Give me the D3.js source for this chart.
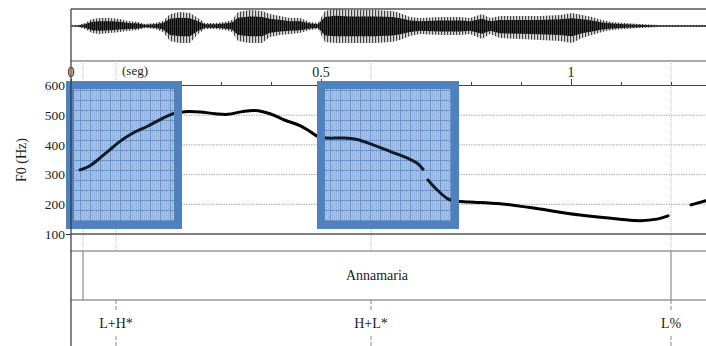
<!DOCTYPE html>
<html><head><meta charset="utf-8">
<script src="https://cdn.jsdelivr.net/npm/d3@7"></script>
<style>
body{margin:0;background:#fff}
svg text{font-family:"Liberation Serif","Times New Roman","DejaVu Serif",serif;fill:#222}
</style></head><body><div id="chart"></div>
<script>
// waveform envelope (time s, upper / lower amplitude, 1 = full panel)
const waveT    = [0,0.014,0.028,0.042,0.058,0.078,0.098,0.114,0.134,0.148,0.168,0.184,0.198,0.218,0.238,0.254,0.268,0.288,0.308,0.322,0.334,0.358,0.382,0.398,0.418,0.438,0.458,0.478,0.494,0.508,0.528,0.558,0.608,0.642,0.658,0.678,0.698,0.738,0.778,0.798,0.822,0.838,0.858,0.898,0.938,0.978,1.002,1.022,1.042,1.062,1.082,1.108,1.138,1.178,1.27]
const waveUp   = [0.03,0.06,0.18,0.41,0.47,0.47,0.41,0.29,0.24,0.12,0.18,0.29,0.71,0.82,0.76,0.47,0.18,0.18,0.24,0.35,0.82,0.94,0.88,0.71,0.59,0.47,0.47,0.24,0.18,0.88,1,0.94,0.94,0.88,0.76,0.53,0.47,0.53,0.53,0.47,0.71,0.47,0.59,0.59,0.59,0.65,0.76,0.65,0.53,0.35,0.24,0.18,0.12,0.06,0.06]
const waveDown = [0.03,0.06,0.18,0.41,0.47,0.41,0.35,0.29,0.24,0.12,0.18,0.35,0.88,1,1,0.47,0.18,0.18,0.24,0.35,0.88,1,1,0.65,0.53,0.47,0.41,0.24,0.18,0.94,1,1,1,0.94,0.82,0.59,0.47,0.53,0.53,0.47,0.76,0.47,0.71,0.76,0.82,0.88,1,0.71,0.53,0.35,0.24,0.18,0.12,0.06,0.06]

// F0 contour pieces [time s, Hz]
const f0Seg1 = [[0.018,316],[0.038,330],[0.058,356],[0.078,384],[0.098,412],[0.124,440],[0.152,462],[0.178,485],[0.204,505],[0.228,512],[0.258,511],[0.288,505],[0.314,503],[0.342,512],[0.368,516],[0.398,505],[0.428,483],[0.458,465],[0.478,445],[0.494,428],[0.512,423],[0.544,423],[0.572,418],[0.604,400],[0.638,378],[0.672,356],[0.692,339],[0.704,318]]
const f0Seg2 = [[0.714,282],[0.732,249],[0.752,220],[0.764,212],[0.798,208],[0.858,202],[0.918,189],[1.018,164],[1.098,150],[1.138,145],[1.172,150],[1.194,161]]
const f0Seg3 = [[1.240,198],[1.270,212]]

const hzTicks = [100,200,300,400,500,600]
const hzGrid = [200,300,400,500]
const timeTicks = [0,0.1,0.2,0.3,0.4,0.5,0.6,0.7,0.8,0.9,1,1.1,1.2]
const timeLabels = [0,0.5,1]
const marks = [0.024,0.09,0.6,1.2]
const wordLabel = "Annamaria", wordStart = 0.024, wordEnd = 1.2
const tones = ["L+H*","H+L*","L%"]
const toneT = [0.09,0.6,1.2]
const boxT = [[-0.01,0.222],[0.492,0.776]]
const boxHz = [117,615]

const W = 706, H = 346
const L = 71, R = 706, waveTop = 9, waveBot = 61, axisY = 85, f0Bot = 234, tier1 = 251, tier2 = 300
const serif = '"Liberation Serif","Times New Roman","DejaVu Serif",serif'

const svg = d3.select("#chart").append("svg").attr("width",W).attr("height",H).attr("font-family",serif)
const defs = svg.append("defs")

const x = d3.scaleLinear().domain([0,1.27]).range([L,R])
const y = d3.scaleLinear().domain([100,600]).range([f0Bot,85.5])
const wy = d3.scaleLinear().domain([-1,1]).range([43,9])

// waveform stripe patterns: grey fringe + black core
const wp = defs.append("pattern").attr("id","wave").attr("width",3).attr("height",4).attr("patternUnits","userSpaceOnUse")
wp.append("rect").attr("width",3).attr("height",4).attr("fill","#fff")
wp.append("rect").attr("width",1).attr("height",4).attr("fill","#444")
wp.append("rect").attr("x",1.5).attr("width",0.8).attr("height",4).attr("fill","#888")
const wc = defs.append("pattern").attr("id","core").attr("width",2).attr("height",4).attr("patternUnits","userSpaceOnUse")
wc.append("rect").attr("width",2).attr("height",4).attr("fill","#555")
wc.append("rect").attr("width",1.3).attr("height",4).attr("fill","#000")

// box pattern
const bp = defs.append("pattern").attr("id","grid").attr("width",10).attr("height",10).attr("patternUnits","userSpaceOnUse")
bp.append("rect").attr("width",10).attr("height",10).attr("fill","#c3d4ec")
for(let i=0;i<10;i+=2) for(let j=(i/2)%2;j<10;j+=2)
  bp.append("rect").attr("x",i).attr("y",j).attr("width",1).attr("height",1).attr("fill","#94b2de")
bp.append("path").attr("d","M0.5,0V10M0,0.5H10").attr("stroke","#7499cf").attr("stroke-width",1)

// waveform
const waveData = waveT.map((t,i)=>({t,u:waveUp[i],d:waveDown[i]}))
svg.append("path").datum(waveData)
  .attr("d",d3.area().x(d=>x(d.t)).y0(d=>wy(-d.d)).y1(d=>wy(d.u)).curve(d3.curveLinear))
  .attr("fill","url(#wave)")
svg.append("path").datum(waveData)
  .attr("d",d3.area().x(d=>x(d.t)).y0(d=>wy(-d.d*0.6)).y1(d=>wy(d.u*0.6)).curve(d3.curveLinear))
  .attr("fill","url(#core)")
svg.append("line").attr("x1",L).attr("x2",R).attr("y1",26).attr("y2",26).attr("stroke","#333").attr("stroke-width",0.8)

// frame lines
const hl = (yy,c,w)=>svg.append("line").attr("x1",L).attr("x2",R).attr("y1",yy).attr("y2",yy).attr("stroke",c).attr("stroke-width",w)
hl(waveTop,"#555",1.5)
hl(waveBot,"#aaa",2)

// grid
svg.selectAll(".hg").data(hzGrid).enter().append("line")
  .attr("x1",L).attr("x2",R).attr("y1",d=>y(d)).attr("y2",d=>y(d))
  .attr("stroke","#aaa").attr("stroke-width",1).attr("stroke-dasharray","1.5,1")
svg.selectAll(".vg").data(marks).enter().append("line")
  .attr("x1",d=>x(d)).attr("x2",d=>x(d)).attr("y1",waveBot).attr("y2",tier1)
  .attr("stroke","#bbb").attr("stroke-width",1).attr("stroke-dasharray","1,1")

// time axis
const tAxis = d3.axisTop(x).tickValues(timeTicks).tickSize(3).tickFormat("")
const tg = svg.append("g").attr("transform",`translate(0,${axisY})`).call(tAxis)
tg.select(".domain").attr("d",`M${L},0.5H${R}`).attr("stroke","#444")
tg.selectAll(".tick line").attr("stroke","#444").attr("y2",d=>timeLabels.includes(d)?-6:-3)
svg.selectAll(".tl").data(timeLabels).enter().append("text")
  .attr("x",d=>x(d)).attr("y",77).attr("text-anchor","middle").attr("font-size",14).text(d=>d)
svg.append("text").attr("x",122).attr("y",75).attr("font-size",13).text("(seg)")

// F0 axis
const yAxis = d3.axisLeft(y).tickValues(hzTicks).tickSize(5).tickPadding(1)
const yg = svg.append("g").attr("transform",`translate(${L},0)`).call(yAxis).attr("font-family",serif)
yg.select(".domain").remove()
yg.selectAll(".tick line").attr("stroke","#333")
yg.selectAll("text").attr("font-size",13.5).attr("fill","#222")
svg.append("text").attr("transform","translate(26,160) rotate(-90)").attr("text-anchor","middle").attr("font-size",14).text("F0 (Hz)")

// boxes: fill first
const boxes = boxT.map(b=>({x0:x(b[0]),x1:x(b[1]),y0:y(boxHz[1]),y1:y(boxHz[0])}))
svg.selectAll(".bf").data(boxes).enter().append("rect")
  .attr("x",d=>d.x0+4).attr("y",d=>d.y0+4).attr("width",d=>d.x1-d.x0-8).attr("height",d=>d.y1-d.y0-8)
  .attr("fill","url(#grid)")

// F0 contour
const line = d3.line().x(d=>x(d[0])).y(d=>y(d[1])).curve(d3.curveCatmullRom)
svg.selectAll(".f0").data([f0Seg1,f0Seg2,f0Seg3]).enter().append("path")
  .attr("d",line).attr("fill","none").attr("stroke","#000").attr("stroke-width",3).attr("stroke-linecap","round")

// box tint + border on top
svg.selectAll(".bt").data(boxes).enter().append("rect")
  .attr("x",d=>d.x0+4).attr("y",d=>d.y0+4).attr("width",d=>d.x1-d.x0-8).attr("height",d=>d.y1-d.y0-8)
  .attr("fill","#4f81bd").attr("fill-opacity",0.22).attr("stroke","#4f81bd").attr("stroke-width",8)

// tiers
hl(f0Bot,"#555",1.5)
hl(tier1,"#666",1.2)
hl(tier2,"#666",1.2)
svg.append("line").attr("x1",L).attr("x2",L).attr("y1",waveTop).attr("y2",H).attr("stroke","#333").attr("stroke-width",1.2)
svg.selectAll(".wb").data([wordStart,wordEnd]).enter().append("line")
  .attr("x1",d=>x(d)).attr("x2",d=>x(d)).attr("y1",tier1).attr("y2",tier2).attr("stroke","#777").attr("stroke-width",1)
svg.append("text").attr("x",(x(wordStart)+x(wordEnd))/2).attr("y",280).attr("text-anchor","middle").attr("font-size",14).text(wordLabel)

toneT.forEach((t,i)=>{
  const g = svg.append("g")
  g.append("line").attr("x1",x(t)).attr("x2",x(t)).attr("y1",tier2).attr("y2",311).attr("stroke","#888").attr("stroke-dasharray","4,2")
  g.append("line").attr("x1",x(t)).attr("x2",x(t)).attr("y1",336).attr("y2",H).attr("stroke","#888").attr("stroke-dasharray","4,2")
  g.append("text").attr("x",x(t)).attr("y",328).attr("text-anchor","middle").attr("font-size",14).text(tones[i])
})
</script></body></html>
